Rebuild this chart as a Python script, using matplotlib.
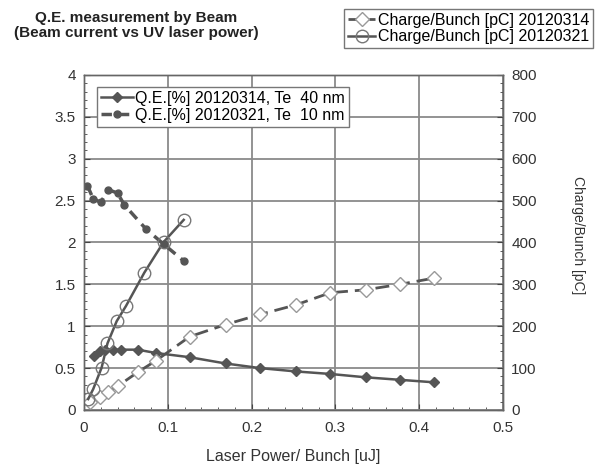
import matplotlib
matplotlib.use("Agg")
import matplotlib.pyplot as plt
from matplotlib.ticker import MultipleLocator

plt.rcParams['font.family'] = ['Liberation Sans', 'DejaVu Sans']

# QE 20120314 (Te 40 nm)
qe14_x = [0.012, 0.019, 0.025, 0.035, 0.044, 0.064, 0.086, 0.126, 0.169, 0.210, 0.253, 0.294, 0.336, 0.377, 0.418]
qe14_y = [0.65, 0.70, 0.72, 0.72, 0.72, 0.72, 0.68, 0.63, 0.555, 0.50, 0.46, 0.43, 0.39, 0.36, 0.33]

# QE 20120321 (Te 10 nm)
qe21_x = [0.004, 0.011, 0.020, 0.029, 0.040, 0.048, 0.074, 0.095, 0.119]
qe21_y = [2.68, 2.52, 2.48, 2.63, 2.59, 2.45, 2.16, 1.98, 1.78]

# Charge/Bunch 20120314
ch14_x = [0.007, 0.019, 0.029, 0.041, 0.064, 0.086, 0.126, 0.169, 0.210, 0.253, 0.294, 0.336, 0.377, 0.418]
ch14_y = [18, 30, 42, 58, 90, 118, 175, 204, 228, 251, 280, 287, 300, 315]

# Charge/Bunch 20120321
ch21_x = [0.005, 0.011, 0.021, 0.028, 0.039, 0.050, 0.072, 0.095, 0.119]
ch21_y = [26, 50, 101, 159, 212, 248, 328, 401, 454]

x_ticks = [0, 0.1, 0.2, 0.3, 0.4, 0.5]
x_ticklabels = ['0', '0.1', '0.2', '0.3', '0.4', '0.5']
y_ticks = [0, 0.5, 1, 1.5, 2, 2.5, 3, 3.5, 4]
y_ticklabels = ['0', '0.5', '1', '1.5', '2', '2.5', '3', '3.5', '4']

fig = plt.figure(figsize=(5.95, 4.68), dpi=100)
ax = fig.add_axes([0.1412, 0.124, 0.7041, 0.7158])
ax2 = ax.twinx()

dark = '#555555'
grid_c = '#8a8a8a'

ax.set_xlim(0, 0.5)
ax.set_ylim(0, 4)
ax2.set_ylim(0, 800)
ax.set_xticks(x_ticks)
ax.set_xticklabels(x_ticklabels)
ax.set_yticks(y_ticks)
ax.set_yticklabels(y_ticklabels)
ax.xaxis.set_minor_locator(MultipleLocator(0.02))
ax.yaxis.set_minor_locator(MultipleLocator(0.1))
ax2.yaxis.set_major_locator(MultipleLocator(100))
ax2.yaxis.set_minor_locator(MultipleLocator(20))

ax.grid(True, which='major', color=grid_c, linewidth=1.3)
ax.set_axisbelow(True)

for a in (ax, ax2):
    a.tick_params(which='both', direction='in', colors='#444444', labelcolor='#333333', labelsize=11)
    a.tick_params(which='major', length=4, pad=6)
    a.tick_params(which='minor', length=2.5)
    for s in a.spines.values():
        s.set_color('#666666')
        s.set_linewidth(1.0)
ax.tick_params(axis='x', which='major', pad=8)

l1, = ax.plot(qe14_x, qe14_y, '-', color=dark, lw=1.8, marker='D', ms=5,
              mfc=dark, mec=dark, label='Q.E.[%] 20120314, Te  40 nm')
l2, = ax.plot(qe21_x, qe21_y, '--', color=dark, lw=2.5, dashes=(3, 2), marker='o', ms=5,
              mfc=dark, mec=dark, label='Q.E.[%] 20120321, Te  10 nm')

l3, = ax2.plot(ch14_x, ch14_y, '--', color=dark, lw=2.0, dashes=(5, 2.5), marker='D', ms=7,
               mfc='white', mec='#999999', mew=1.0, label='Charge/Bunch [pC] 20120314')
l4, = ax2.plot(ch21_x, ch21_y, '-', color=dark, lw=1.8, marker='o', ms=9,
               mfc='none', mec='#777777', mew=1.0, label='Charge/Bunch [pC] 20120321')

ax.set_xlabel('Laser Power/ Bunch [uJ]', fontsize=11.5, color='#333333', labelpad=10)
fig.text(578 / 595, 1 - 235 / 468, 'Charge/Bunch [pC]', rotation=-90, ha='center', va='center',
         fontsize=10, color='#333333')

leg1 = ax2.legend(handles=[l1, l2], loc='upper left', bbox_to_anchor=(0.031, 0.964),
                  fontsize=11.5, frameon=True, fancybox=False, edgecolor='#777777',
                  handlelength=2.0, handletextpad=0.15, borderpad=0.25, labelspacing=0.1,
                  borderaxespad=0, framealpha=1)
leg1.get_frame().set_linewidth(1.0)

leg2 = fig.legend(handles=[l3, l4], loc='upper right', bbox_to_anchor=(0.997, 0.981),
                  fontsize=11.5, frameon=True, fancybox=False, edgecolor='#777777',
                  handlelength=1.7, handletextpad=0.15, borderpad=0.25, labelspacing=0.1,
                  borderaxespad=0, framealpha=1)
leg2.get_frame().set_linewidth(1.0)

fig.text(0.229, 0.977, 'Q.E. measurement by Beam\n(Beam current vs UV laser power)',
         ha='center', va='top', fontsize=11, fontweight='bold', color='#222222',
         linespacing=1.15)

fig.savefig('out.png', dpi=100)
